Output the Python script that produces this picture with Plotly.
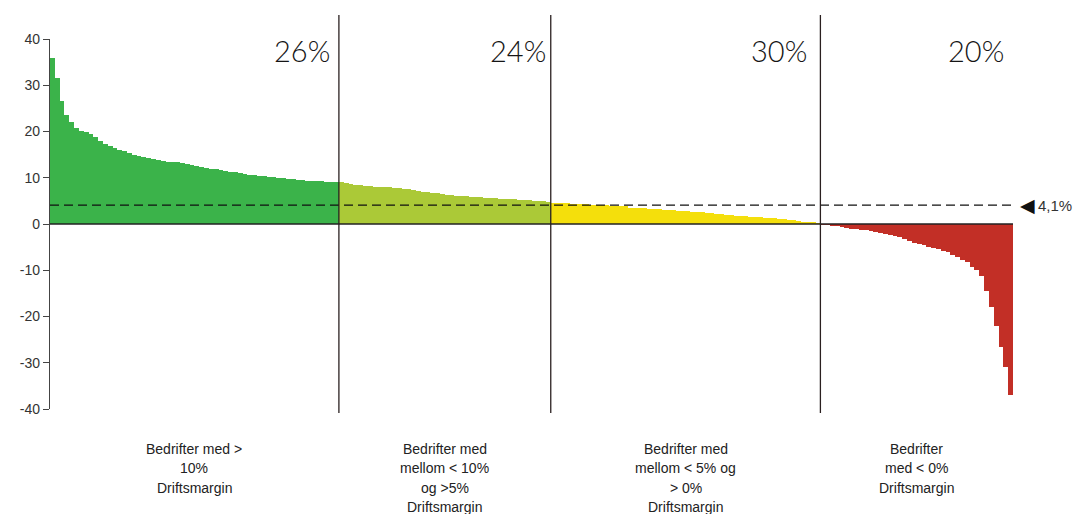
import plotly.graph_objects as go

# Sorted operating margins (%) per company, by group
green_vals = [35.9, 31.5, 26.5, 23.5, 22.0, 20.8, 20.2, 19.9, 19.4, 18.8,
              18.0, 17.4, 16.8, 16.4, 16.0, 15.7, 15.3, 15.0, 14.7, 14.5,
              14.2, 14.0, 13.8, 13.7, 13.5, 13.4, 13.3, 13.2, 13.0, 12.8,
              12.6, 12.4, 12.2, 12.0, 11.8, 11.6, 11.4, 11.3, 11.2, 11.0,
              10.9, 10.7, 10.6, 10.4, 10.3, 10.2, 10.1, 10.0, 9.9, 9.8,
              9.7, 9.6, 9.5, 9.4, 9.3, 9.3, 9.2, 9.1, 9.0, 9.0]
lime_vals = [9.0, 8.8, 8.6, 8.5, 8.4, 8.3, 8.2, 8.1, 8.0, 8.0,
             7.9, 7.8, 7.8, 7.6, 7.5, 7.3, 7.2, 7.0, 6.9, 6.7,
             6.6, 6.4, 6.3, 6.2, 6.1, 6.0, 6.0, 5.9, 5.8, 5.8,
             5.7, 5.6, 5.6, 5.5, 5.4, 5.3, 5.3, 5.2, 5.1, 5.1,
             5.0, 5.0, 4.9, 4.8]
yellow_vals = [4.6, 4.6, 4.5, 4.5, 4.4, 4.4, 4.3, 4.3, 4.2, 4.2, 4.1, 4.1, 4.0, 4.0, 3.9, 3.8,
               3.5, 3.5, 3.4, 3.4, 3.3, 3.2, 3.2, 3.1, 3.0, 3.0, 2.9, 2.8, 2.8, 2.7, 2.6, 2.5, 2.4,
               2.3, 2.2, 2.1, 2.0, 1.9, 1.8, 1.8, 1.7, 1.6, 1.5, 1.5,
               1.4, 1.3, 1.2, 1.1, 1.0, 0.9, 0.8, 0.6, 0.5, 0.4, 0.3, 0.2]
red_vals = [-0.1, -0.2, -0.3, -0.4, -0.6, -0.8, -1.0, -1.1, -1.2, -1.4,
            -1.6, -1.8, -2.0, -2.2, -2.4, -2.7, -2.9, -3.2, -3.6, -4.0,
            -4.3, -4.6, -4.9, -5.2, -5.5, -5.8, -6.1, -6.6, -7.1, -7.7,
            -8.3, -9.2, -10.0, -11.2, -14.5, -18.0, -22.0, -26.5, -31.0, -37.0]

group_values = [green_vals, lime_vals, yellow_vals, red_vals]
group_colors = ["#3bb34a", "#abc937", "#f4df0c", "#c22f26"]
group_shares = ["26%", "24%", "30%", "20%"]
group_labels = [["Bedrifter med >", "10%", "Driftsmargin"],
                ["Bedrifter med", "mellom < 10%", "og >5%", "Driftsmargin"],
                ["Bedrifter med", "mellom < 5% og", "> 0%", "Driftsmargin"],
                ["Bedrifter", "med < 0%", "Driftsmargin"]]
average_margin = 4.1
average_label = "4,1%"
y_ticks = [40, 30, 20, 10, 0, -10, -20, -30, -40]

fig = go.Figure()
start = 0
bounds = []
for vals, col in zip(group_values, group_colors):
    xs = list(range(start, start + len(vals)))
    fig.add_trace(go.Bar(x=xs, y=vals, marker=dict(color=col, line=dict(width=0)),
                         width=1.0, showlegend=False, hoverinfo="y"))
    bounds.append((start, start + len(vals)))
    start += len(vals)
n_total = start

shapes = []
# zero line
shapes.append(dict(type="line", xref="paper", yref="y", x0=0, x1=1, y0=0, y1=0,
                   line=dict(color="#222", width=1.5), layer="above"))
# average dashed line
shapes.append(dict(type="line", xref="paper", yref="y", x0=0, x1=1.003,
                   y0=average_margin, y1=average_margin,
                   line=dict(color="#111", width=1.3, dash="9px,5px"), layer="above"))
# group dividers
for (a, b) in bounds[:-1]:
    shapes.append(dict(type="line", xref="x", yref="paper", x0=b - 0.5, x1=b - 0.5,
                       y0=-0.011, y1=1.065, line=dict(color="#2a2020", width=1.3),
                       layer="above"))

annotations = []
share_right = [bounds[0][1] - 2.0, bounds[1][1] - 1.0, bounds[2][1] - 2.8, bounds[3][1] - 2.0]
for txt, xr in zip(group_shares, share_right):
    annotations.append(dict(x=xr, y=0.97, xref="x", yref="paper", text=txt,
                            showarrow=False, xanchor="right", yanchor="middle",
                            font=dict(family="Lato", size=29, color="#151515", weight=300)))
for (a, b), lines in zip(bounds, group_labels):
    for k, line in enumerate(lines):
        annotations.append(dict(x=(a + b - 1) / 2, y=-0.08, xref="x", yref="paper", text=line,
                                showarrow=False, xanchor="center", yanchor="top",
                                yshift=-19.5 * k,
                                font=dict(family="Liberation Sans, Arial", size=14,
                                          color="#222")))
annotations.append(dict(x=1.005, y=average_margin, xref="paper", yref="y", text="◀",
                        showarrow=False, xanchor="left", yanchor="middle",
                        font=dict(family="DejaVu Sans", size=19, color="#111")))
annotations.append(dict(x=1.024, y=average_margin, xref="paper", yref="y", text=average_label,
                        showarrow=False, xanchor="left", yanchor="middle",
                        font=dict(family="Liberation Sans, Arial", size=15, color="#333")))

fig.update_layout(
    width=1074, height=506,
    margin=dict(l=38, r=69, t=31, b=105),
    paper_bgcolor="white", plot_bgcolor="white",
    bargap=0, barmode="overlay",
    shapes=shapes, annotations=annotations,
    showlegend=False,
    xaxis=dict(range=[-0.5, n_total - 0.5], visible=False, fixedrange=True),
    yaxis=dict(range=[-40, 40], tickvals=y_ticks, ticktext=[str(t) for t in y_ticks],
               showgrid=False, zeroline=False, showline=True, linecolor="#444",
               linewidth=1.3, ticks="outside", ticklen=6, tickcolor="#444",
               tickfont=dict(family="Liberation Sans, Arial", size=14, color="#333")),
)

fig.write_html("out.html")
